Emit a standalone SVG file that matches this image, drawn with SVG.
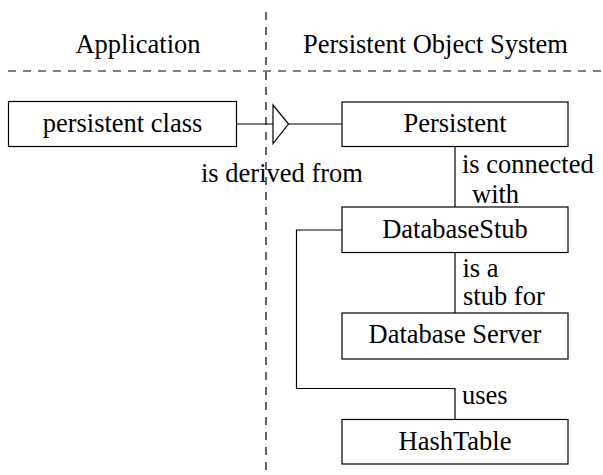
<svg xmlns="http://www.w3.org/2000/svg" width="603" height="475" viewBox="0 0 603 475">
<style>
text{font-family:"Liberation Serif","Times New Roman",serif;font-size:26.5px;fill:#000}
.c{text-anchor:middle}
.box{fill:#fff;stroke:#000;stroke-width:1.2}
.ln{fill:none;stroke:#000;stroke-width:1.2}
.dash{fill:none;stroke:#000;stroke-width:1.2;stroke-dasharray:8 7}
</style>
<rect width="603" height="475" fill="#fff"/>
<g id="swimlanes">
<line class="dash" x1="266" y1="12" x2="266" y2="475"/>
<line class="dash" x1="8" y1="71" x2="603" y2="71"/>
<text class="c" x="138" y="53">Application</text>
<text class="c" x="435.5" y="53">Persistent Object System</text>
</g>
<g id="connectors">
<line class="ln" x1="236.5" y1="124" x2="273" y2="124"/>
<polygon points="273,105 288.5,124 273,143.5" fill="#fff" stroke="#000" stroke-width="1.2"/>
<line class="ln" x1="288.5" y1="124" x2="342" y2="124"/>
<text x="201" y="182">is derived from</text>
<line class="ln" x1="455" y1="146.5" x2="455" y2="207"/>
<text x="462" y="173">is connected</text>
<text x="472" y="203">with</text>
<line class="ln" x1="455" y1="252.5" x2="455" y2="313"/>
<text x="462.5" y="277">is a</text>
<text x="463" y="305">stub for</text>
<polyline class="ln" points="342,230 296.5,230 296.5,388.5 455,388.5 455,419.5"/>
<text x="462" y="404">uses</text>
</g>
<g id="persistent-class">
<rect class="box" x="8.5" y="101.5" width="228" height="45"/>
<text class="c" x="122.5" y="132">persistent class</text>
</g>
<g id="persistent">
<rect class="box" x="342" y="102" width="226" height="44.5"/>
<text class="c" x="455" y="132">Persistent</text>
</g>
<g id="database-stub">
<rect class="box" x="342" y="207" width="226" height="45.5"/>
<text class="c" x="455" y="238">DatabaseStub</text>
</g>
<g id="database-server">
<rect class="box" x="342" y="313" width="226" height="46"/>
<text class="c" x="455" y="343">Database Server</text>
</g>
<g id="hashtable">
<rect class="box" x="342" y="419.5" width="226" height="44.5"/>
<text class="c" x="455" y="449.5">HashTable</text>
</g>
</svg>
